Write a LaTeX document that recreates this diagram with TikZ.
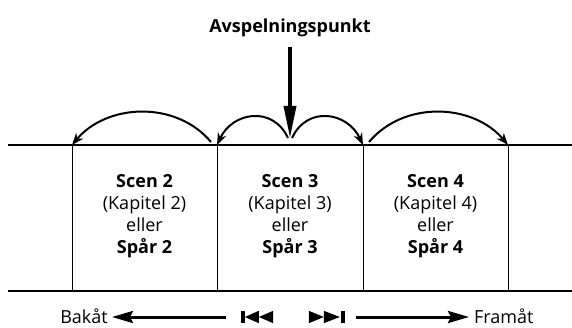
\documentclass[tikz,border=0pt]{standalone}
\usepackage{fontspec}
\setmainfont{Open Sans}
\usetikzlibrary{arrows.meta}

\begin{document}
\begin{tikzpicture}[
      x=1pt, y=1pt,
      scene/.style={
          align=center,
          inner sep=0pt,
          font=\fontsize{18}{22}\selectfont
        },
      sidetext/.style={
          inner sep=0pt,
          text height=12pt,
          text depth=0pt,
          font=\fontsize{18}{22}\selectfont
        },
      track/.style={line width=2.8pt},
      border/.style={line width=1pt},
      jump/.style={line width=2pt, -{Stealth[length=12pt,width=9pt]}},
      play/.style={line width=3.5pt, -{Triangle[length=32pt,width=12pt]}},
      arrow/.style={line width=3pt, -{Stealth[length=21pt,width=12pt,inset=3pt]}}
    ]
    \useasboundingbox (0,0) rectangle (572,327);

    % track with scene borders
    \coordinate (trackl) at (8,182);
    \coordinate (trackr) at (572,182);
    \coordinate (floorl) at (8,36);
    \coordinate (floorr) at (572,36);
    \draw[track] (trackl) -- (trackr);
    \draw[track] (floorl) -- (floorr);
    \foreach \i/\x in {1/72,2/217,3/363,4/508} {
        \coordinate (top\i) at (\x,182);
        \coordinate (bot\i) at (\x,36);
        \draw[border] (top\i) -- (bot\i);
      }

    \foreach \n/\x in {2/144.5,3/290,4/435.5}
    \node[scene] (scen\n) at (\x,111) {\textbf{Scen \n}\\(Kapitel \n)\\eller\\\textbf{Spår \n}};

    % playback point
    \node[font=\bfseries\fontsize{18}{22}\selectfont, inner sep=0pt] (title) at (290,299) {Avspelningspunkt};
    \coordinate (pp) at (290,189);
    \draw[play, shorten <=10pt] (title.south) -- (pp);

    \draw[jump] ([xshift=-6pt,yshift=3pt]top2) to[out=130,in=50] (top1);
    \draw[jump] ([xshift=-2pt]pp) to[out=115,in=65,looseness=1.3] (top2);
    \draw[jump] ([xshift=2pt]pp) to[out=65,in=115,looseness=1.3] (top3);
    \draw[jump] ([xshift=6pt,yshift=3pt]top3) to[out=50,in=130] (top4);

    % skip buttons
    \node[inner sep=0pt, minimum width=32pt, minimum height=12pt] (prev) at (257,10) {};
    \node[inner sep=0pt, minimum width=36pt, minimum height=12pt] (next) at (327,10) {};
    \fill (prev.south west) rectangle ++(4,12);
    \fill ([xshift=4pt]prev.west) -- ([xshift=18pt]prev.north west) -- ([xshift=18pt]prev.south west) -- cycle;
    \fill ([xshift=18pt]prev.west) -- (prev.north east) -- (prev.south east) -- cycle;
    \fill (next.south west) -- (next.north west) -- ([xshift=15pt]next.west) -- cycle;
    \fill ([xshift=15pt]next.south west) -- ([xshift=15pt]next.north west) -- ([xshift=31pt]next.west) -- cycle;
    \fill ([xshift=32pt]next.south west) rectangle (next.north east);

    \node[sidetext, anchor=east] (bakat) at (108,10) {Bakåt};
    \node[sidetext, anchor=west] (framat) at (474,10) {Framåt};
    \draw[arrow, shorten >=4pt] ([xshift=-15pt]prev.west) -- (bakat.east);
    \draw[arrow, shorten >=5pt] ([xshift=11pt]next.east) -- (framat.west);
  \end{tikzpicture}
\end{document}
